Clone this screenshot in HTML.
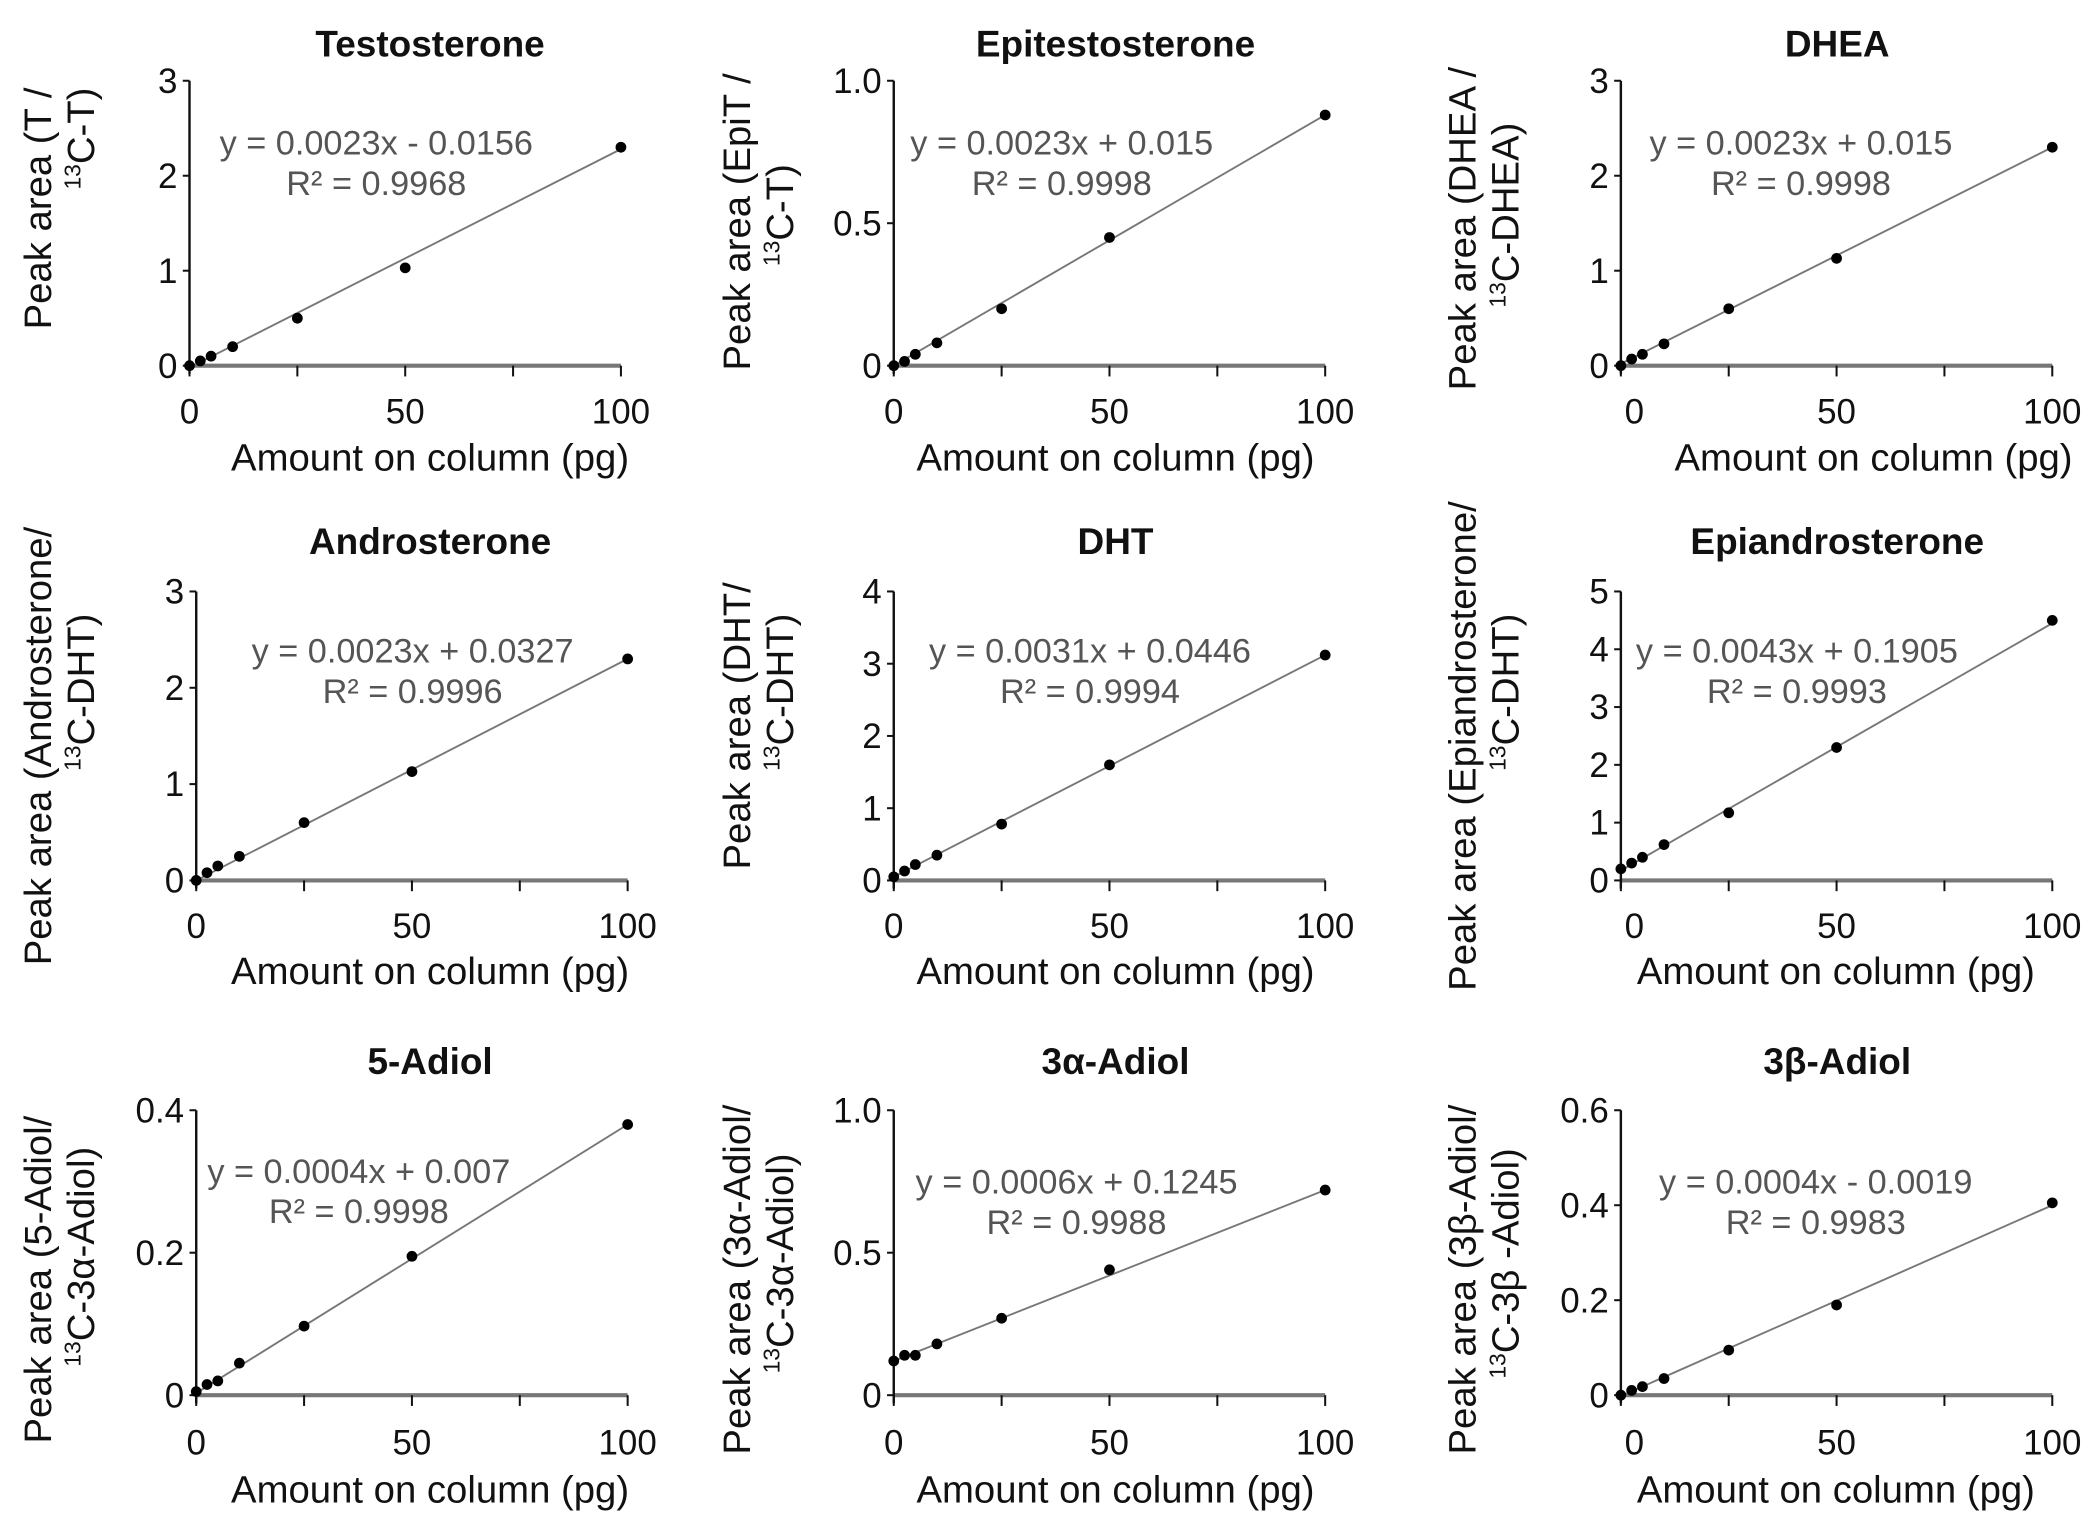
<!DOCTYPE html>
<html><head><meta charset="utf-8"><style>
html,body{margin:0;padding:0;background:#fff}
svg{display:block}
text{font-family:"Liberation Sans","DejaVu Sans",sans-serif}
</style></head><body>
<svg id="fig" width="2100" height="1527" viewBox="0 0 1562.5 1136" xmlns="http://www.w3.org/2000/svg"></svg>
<script>
// ---- data ----
const titles = ["Testosterone","Epitestosterone","DHEA","Androsterone","DHT","Epiandrosterone","5-Adiol","3α-Adiol","3β-Adiol"];
const yLabel1 = ["Peak area (T /","Peak area (EpiT /","Peak area (DHEA /","Peak area (Androsterone/","Peak area (DHT/","Peak area (Epiandrosterone/","Peak area (5-Adiol/","Peak area (3α-Adiol/","Peak area (3β-Adiol/"];
const yLabel2 = ["C-T)","C-T)","C-DHEA)","C-DHT)","C-DHT)","C-DHT)","C-3α-Adiol)","C-3α-Adiol)","C-3β -Adiol)"];
const equations = ["y = 0.0023x - 0.0156","y = 0.0023x + 0.015","y = 0.0023x + 0.015","y = 0.0023x + 0.0327","y = 0.0031x + 0.0446","y = 0.0043x + 0.1905","y = 0.0004x + 0.007","y = 0.0006x + 0.1245","y = 0.0004x - 0.0019"];
const r2 = ["R² = 0.9968","R² = 0.9998","R² = 0.9998","R² = 0.9996","R² = 0.9994","R² = 0.9993","R² = 0.9998","R² = 0.9988","R² = 0.9983"];
const yMax = [3,1.0,3,3,4,5,0.4,1.0,0.6];
const yTicks = [[0,1,2,3],[0,0.5,1.0],[0,1,2,3],[0,1,2,3],[0,1,2,3,4],[0,1,2,3,4,5],[0,0.2,0.4],[0,0.5,1.0],[0,0.2,0.4,0.6]];
const yTickLabels = [["0","1","2","3"],["0","0.5","1.0"],["0","1","2","3"],["0","1","2","3"],["0","1","2","3","4"],["0","1","2","3","4","5"],["0","0.2","0.4"],["0","0.5","1.0"],["0","0.2","0.4","0.6"]];
const xTicks = [0,50,100];
const xMinor = [25,75];
const xValues = [0,2.5,5,10,25,50,100];
const series = [
 [0,0.05,0.1,0.2,0.5,1.03,2.3],
 [0,0.015,0.04,0.08,0.2,0.45,0.88],
 [0,0.07,0.12,0.23,0.6,1.13,2.3],
 [0,0.08,0.15,0.25,0.6,1.13,2.3],
 [0.05,0.13,0.22,0.35,0.78,1.6,3.12],
 [0.2,0.3,0.4,0.62,1.17,2.3,4.5],
 [0.005,0.015,0.02,0.045,0.097,0.195,0.38],
 [0.12,0.14,0.14,0.18,0.27,0.44,0.72],
 [0,0.01,0.018,0.035,0.095,0.19,0.405]
];
const fitAt0 = [-0.02,0.0,0.02,0.0,0.05,0.17,0.003,0.12,-0.002];
const fitAt100 = [2.28,0.88,2.3,2.3,3.12,4.45,0.38,0.72,0.4];

// ---- layout (display units) ----
const colAxis=[[141,665,1206],[146,665,1206],[146,665,1206]];
const colX100=[[462,986,1527],[467,986,1527],[467,986,1527]];
const zeroLabelShift=[0,0,10];
const rowTop=[60,440,826], rowZero=[272,655,1038];
const titleY=[42,412,799], xTickY=[315,698,1082], xTitleY=[350,732,1118];
const titleX=[320,830,1367];
const xTitleX=[[320,830,1394],[320,830,1366],[320,830,1366]];
const yT1X=[38,558,1098], yT2X=[70,590,1130];
const yT1C=[[155,165,170],[555,540,555],[952,952,952]];
const yT2C=[[103,160,160],[515,515,515],[935,940,940]];
const eqC=[[[280,107],[790,107],[1340,107]],[[307,485],[811,485],[1337,485]],[[267,872],[801,880],[1351,880]]];

const NS="http://www.w3.org/2000/svg";
const svg=document.getElementById('fig');
function mk(tag,attrs,parent){const e=document.createElementNS(NS,tag);for(const k in attrs)e.setAttribute(k,attrs[k]);(parent||svg).appendChild(e);return e;}

for(let i=0;i<9;i++){
 const r=Math.floor(i/3), c=i%3;
 const g=mk('g',{});
 
 
 const ax=colAxis[r][c], x100=colX100[r][c], top=rowTop[r], zero=rowZero[r];
 const X=v=>ax+(x100-ax)*v/100;
 const Y=v=>zero-(zero-top)*v/yMax[i];
 const t=mk('text',{x:titleX[c],y:titleY[r],'text-anchor':'middle','font-size':27.5,'font-weight':'bold',fill:'#111'},g);
 t.textContent=titles[i];
 
 
 const xa=mk('line',{x1:ax,y1:zero,x2:x100,y2:zero,stroke:'#777','stroke-width':3},g);
 
 
 xTicks.concat(xMinor).forEach(v=>{mk('line',{x1:X(v),y1:zero,x2:X(v),y2:zero+8,stroke:'#111','stroke-width':1.5},g);});
 xTicks.forEach((v,k)=>{
  const tl=mk('text',{x:X(v)+(v===0?zeroLabelShift[c]:0),y:xTickY[r],'text-anchor':'middle','font-size':26,fill:'#111'},g);
  tl.textContent=String(v);
  
  
 });
 const xt=mk('text',{x:xTitleX[r][c],y:xTitleY[r],'text-anchor':'middle','font-size':28.5,fill:'#111'},g);
 xt.textContent='Amount on column (pg)';
 
 
 const ya=mk('line',{x1:ax,y1:top,x2:ax,y2:zero+6,stroke:'#111','stroke-width':1.8},g);
 
 
 yTicks[i].forEach((v,k)=>{
  mk('line',{x1:ax-5,y1:Y(v),x2:ax,y2:Y(v),stroke:'#111','stroke-width':1.5},g);
  const tl=mk('text',{x:ax-9,y:Y(v)+9,'text-anchor':'end','font-size':26,fill:'#111'},g);
  tl.textContent=yTickLabels[i][k];
  
  
 });
 const y1=mk('text',{x:0,y:0,'text-anchor':'middle','font-size':28.5,fill:'#111',transform:`translate(${yT1X[c]},${yT1C[r][c]}) rotate(-90)`},g);
 y1.textContent=yLabel1[i];
 
 
 const y2=mk('text',{x:0,y:0,'text-anchor':'middle','font-size':28.5,fill:'#111',transform:`translate(${yT2X[c]},${yT2C[r][c]}) rotate(-90)`},g);
 const sup=mk('tspan',{'font-size':17,dy:-10},y2); sup.textContent='13';
 const rest=mk('tspan',{dy:10},y2); rest.textContent=yLabel2[i];
 
 
 const fl=mk('line',{x1:X(0),y1:Y(fitAt0[i]),x2:X(100),y2:Y(fitAt100[i]),stroke:'#777','stroke-width':1.4},g);
 
 
 xValues.forEach((xv,k)=>{
  const p=mk('circle',{cx:X(xv),cy:Y(series[i][k]),r:4,fill:'#000'},g);
  
  
 });
 const ec=eqC[r][c];
 const e1=mk('text',{x:ec[0],y:ec[1]+8,'text-anchor':'middle','font-size':25.5,fill:'#555'},g);
 e1.textContent=equations[i];
 
 
 const e2=mk('text',{x:ec[0],y:ec[1]+38,'text-anchor':'middle','font-size':25.5,fill:'#555'},g);
 e2.textContent=r2[i];
 
 
}
</script>
</body></html>
